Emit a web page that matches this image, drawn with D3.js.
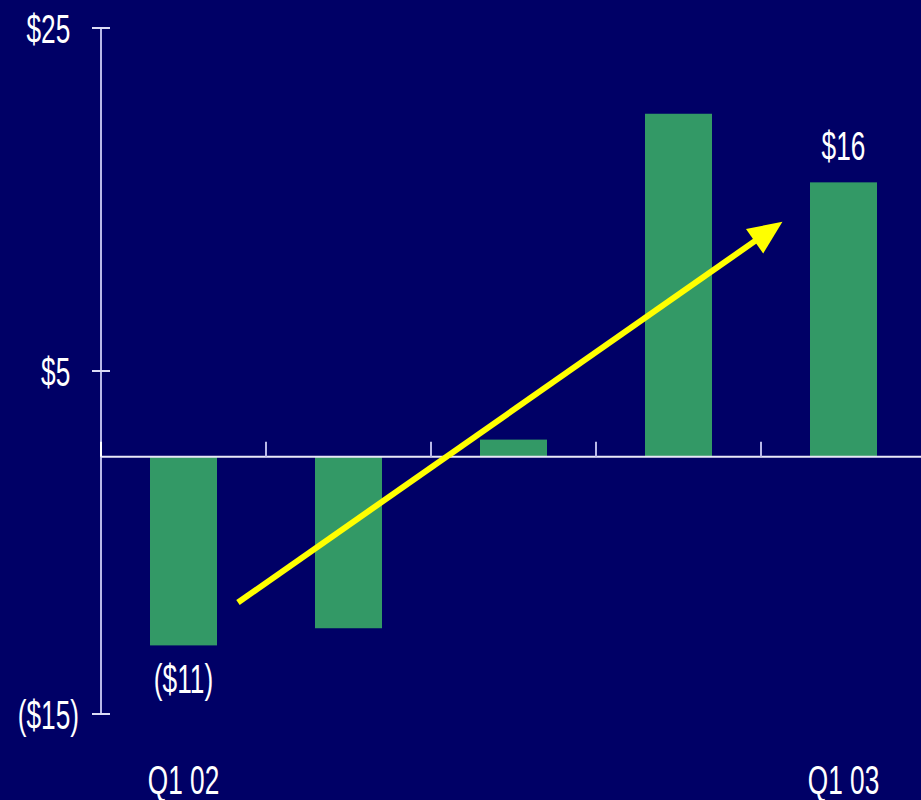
<!DOCTYPE html>
<html>
<head>
<meta charset="utf-8">
<script src="https://cdn.jsdelivr.net/npm/d3@7"></script>
<style>
html,body{margin:0;padding:0;background:#000066;}
svg{display:block;}
</style>
</head>
<body>
<svg id="chart" width="921" height="800"></svg>
<script>
const categories = ["Q1 02", "Q2 02", "Q3 02", "Q4 02", "Q1 03"];
const values = [-11, -10, 1, 20, 16];
const shownCategoryLabels = ["Q1 02", "Q1 03"];
const valueLabels = ["($11)", null, null, null, "$16"];
const yTicks = [25, 5, -15];
const yTickLabels = ["$25", "$5", "($15)"];
// trend arrow in (category index, value) units
const arrowFrom = [0.83, -8.5];
const arrowTo = [4.13, 13.7];

(function () {
const svg = d3.select("#chart");
const W = 921, H = 800;
const mLeft = 101, mRight = 926, mTop = 28, mBottom = 714;
const FS = 41, SX = 0.64;

svg.append("rect").attr("width", W).attr("height", H).attr("fill", "#000066");

const y = d3.scaleLinear().domain([-15, 25]).range([mBottom, mTop]);
const x = d3.scaleBand().domain(categories).range([mLeft, mRight])
  .paddingInner(0.594).paddingOuter(0.297);
const xi = d3.scaleLinear().domain([0, categories.length]).range([mLeft, mRight]);

function txt(g, str, px, py, anchor, color) {
  return g.append("text")
    .attr("transform", `translate(${px},${py}) scale(${SX},1)`)
    .attr("text-anchor", anchor)
    .attr("font-family", "Liberation Sans, Arial, sans-serif")
    .attr("font-size", FS)
    .attr("fill", color || "#ffffff")
    .text(str);
}

// bars
svg.append("g").selectAll("rect").data(values).join("rect")
  .attr("x", (d, i) => x(categories[i]))
  .attr("width", x.bandwidth())
  .attr("y", d => y(Math.max(0, d)))
  .attr("height", d => Math.abs(y(d) - y(0)))
  .attr("fill", "#339966");

// y axis
const yAxis = svg.append("g");
yAxis.append("line").attr("x1", mLeft).attr("x2", mLeft)
  .attr("y1", y(25)).attr("y2", y(-15))
  .attr("stroke", "#b8b8e8").attr("stroke-width", 2);
yAxis.selectAll("line.tick").data(yTicks).join("line").attr("class", "tick")
  .attr("x1", mLeft - 9).attr("x2", mLeft + 9)
  .attr("y1", d => y(d)).attr("y2", d => y(d))
  .attr("stroke", "#dcdcf5").attr("stroke-width", 2);
const parenW = 0.333 * FS * SX;
yTicks.forEach((t, i) => {
  const lab = yTickLabels[i];
  const neg = lab.startsWith("(");
  txt(yAxis, lab, 79 - (neg ? 0 : parenW), y(t) + 15, "end");
});

// x axis (baseline)
const xAxis = svg.append("g");
xAxis.append("line").attr("x1", mLeft).attr("x2", W)
  .attr("y1", y(0)).attr("y2", y(0))
  .attr("stroke", "#e8e8f8").attr("stroke-width", 2);
const boundaries = d3.range(0, categories.length).map(i => xi(i));
xAxis.selectAll("line.tick").data(boundaries).join("line").attr("class", "tick")
  .attr("x1", d => d).attr("x2", d => d)
  .attr("y1", y(0) - 15).attr("y2", y(0))
  .attr("stroke", (d, i) => i === 0 ? "#ffffff" : "#b8b8e8")
  .attr("stroke-width", 2);

categories.forEach((c, i) => {
  if (shownCategoryLabels.includes(c)) {
    txt(xAxis, c, x(c) + x.bandwidth() / 2, 794, "middle");
  }
});

// value labels
values.forEach((v, i) => {
  const lab = valueLabels[i];
  if (!lab) return;
  const cx = x(categories[i]) + x.bandwidth() / 2;
  const py = v < 0 ? y(v) + 48 : y(v) - 22;
  txt(svg, lab, cx, py, "middle");
});

// trend arrow
const ax1 = xi(arrowFrom[0]), ay1 = y(arrowFrom[1]);
const ax2 = xi(arrowTo[0]), ay2 = y(arrowTo[1]);
const ang = Math.atan2(ay2 - ay1, ax2 - ax1);
const headLen = 34, headHalf = 15;
const bx = ax2 - headLen * Math.cos(ang), by = ay2 - headLen * Math.sin(ang);
svg.append("line")
  .attr("x1", ax1).attr("y1", ay1).attr("x2", bx + 2 * Math.cos(ang)).attr("y2", by + 2 * Math.sin(ang))
  .attr("stroke", "#ffff00").attr("stroke-width", 6);
const nx = -Math.sin(ang), ny = Math.cos(ang);
svg.append("path")
  .attr("d", `M${ax2},${ay2}L${bx + headHalf * nx},${by + headHalf * ny}L${bx - headHalf * nx},${by - headHalf * ny}Z`)
  .attr("fill", "#ffff00");
})();
</script>
</body>
</html>
